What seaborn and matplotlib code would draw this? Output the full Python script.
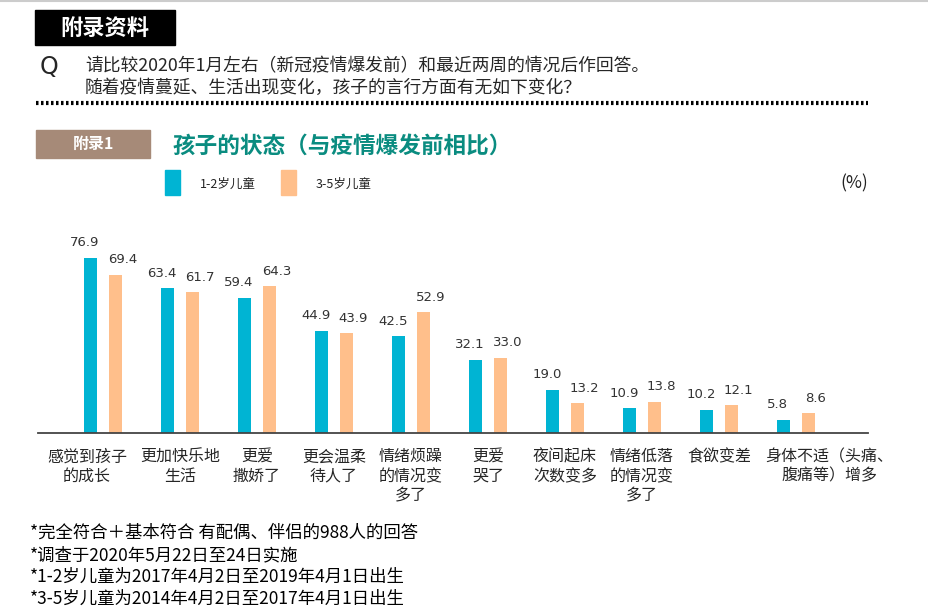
import seaborn as sns
import matplotlib.pyplot as plt
import pandas as pd
from matplotlib.patches import Rectangle
from matplotlib.lines import Line2D
from matplotlib.transforms import ScaledTranslation

sns.set_theme(style="white")
plt.rcParams['font.family'] = ['Noto Sans CJK SC', 'DejaVu Sans']

# data
categories = ['感觉到孩子\n的成长', '更加快乐地\n生活', '更爱\n撒娇了', '更会温柔\n待人了',
              '情绪烦躁\n的情况变\n多了', '更爱\n哭了', '夜间起床\n次数变多',
              '情绪低落\n的情况变\n多了', '食欲变差', '身体不适（头痛、\n腹痛等）增多']
kids_1_2 = [76.9, 63.4, 59.4, 44.9, 42.5, 32.1, 19.0, 10.9, 10.2, 5.8]
kids_3_5 = [69.4, 61.7, 64.3, 43.9, 52.9, 33.0, 13.2, 13.8, 12.1, 8.6]
series = ['1-2岁儿童', '3-5岁儿童']
colors = ['#00B4D3', '#FFBF8B']

df = pd.DataFrame({
    'cat': categories * 2,
    'val': kids_1_2 + kids_3_5,
    'grp': [series[0]] * len(categories) + [series[1]] * len(categories),
})

W, H = 929, 615
fig = plt.figure(figsize=(W / 100, H / 100), dpi=100)

def fx(x):
    return x / W

def fy(y):
    return 1 - y / H

# axes placed in pixel terms: baseline at y=433, x from 38 to 868
ax = fig.add_axes([fx(38), fy(433), fx(830), 228 / H])
sns.barplot(data=df, x='cat', y='val', hue='grp', palette=colors, saturation=1,
            width=0.65, gap=0.48, linewidth=0, ax=ax, legend=False)
ax.set_ylim(0, 100)
ax.set_xlim(-0.844, 9.935)
ax.set_xlabel('')
ax.set_ylabel('')
ax.set_yticks([])
for s in ['top', 'right', 'left']:
    ax.spines[s].set_visible(False)
ax.spines['bottom'].set_color('#444444')
ax.spines['bottom'].set_linewidth(1.3)
ax.tick_params(axis='x', length=0, pad=11, labelsize=11.5)
labels = ax.get_xticklabels()
for t in labels:
    t.set_va('top')
    t.set_linespacing(1.2)
# first and last labels sit a little off-centre in the original
labels[0].set_transform(labels[0].get_transform() + ScaledTranslation(-0.16, 0, fig.dpi_scale_trans))
labels[-1].set_transform(labels[-1].get_transform() + ScaledTranslation(0.33, 0, fig.dpi_scale_trans))

# value labels
for cont, dx in zip(ax.containers, [-4, 5]):
    for bar in cont:
        h = bar.get_height()
        ax.annotate(f'{h:.1f}', (bar.get_x() + bar.get_width() / 2, h),
                    xytext=(dx, 6), textcoords='offset points',
                    ha='center', va='bottom', fontsize=9.5, color='#333333',
                    family='DejaVu Sans')

# header
fig.add_artist(Line2D([0, 1], [fy(1), fy(1)], color='#cccccc', lw=1.5))
fig.add_artist(Rectangle((fx(35), fy(45)), fx(140), 35 / H, color='black'))
fig.text(fx(105), fy(28), '附录资料', color='white', fontsize=16, fontweight='bold',
         ha='center', va='center')
fig.text(fx(40), fy(67), 'Q', fontsize=17, family='DejaVu Sans', va='center')
fig.text(fx(85), fy(66), '请比较2020年1月左右（新冠疫情爆发前）和最近两周的情况后作回答。',
         fontsize=12.8, va='center')
fig.text(fx(85), fy(88), '随着疫情蔓延、生活出现变化，孩子的言行方面有无如下变化？',
         fontsize=12.8, va='center')
fig.add_artist(Line2D([fx(36), fx(868)], [fy(103), fy(103)], color='black',
                      lw=3, linestyle=(0, (0.6, 0.6))))

# section title
fig.add_artist(Rectangle((fx(36), fy(158)), fx(114), 28 / H, color='#A68A78'))
fig.text(fx(93), fy(144), '附录1', color='white', fontsize=11.5, fontweight='bold',
         ha='center', va='center')
fig.text(fx(172), fy(146), '孩子的状态（与疫情爆发前相比）', color='#0A8C80',
         fontsize=16.3, fontweight='bold', va='center')

# legend
for i, (lab, c) in enumerate(zip(series, colors)):
    x0 = 165 + i * 116
    fig.add_artist(Rectangle((fx(x0), fy(195)), fx(15), 25 / H, color=c))
    fig.text(fx(x0 + 35), fy(184), lab, fontsize=9, va='center', color='#222222')
fig.text(fx(868), fy(183), '(%)', fontsize=12.5, ha='right', va='center', color='#222222')

# footnotes
notes = ['*完全符合＋基本符合 有配偶、伴侣的988人的回答',
         '*调查于2020年5月22日至24日实施',
         '*1-2岁儿童为2017年4月2日至2019年4月1日出生',
         '*3-5岁儿童为2014年4月2日至2017年4月1日出生']
for i, n in enumerate(notes):
    fig.text(fx(30), fy(533 + 22 * i), n, fontsize=12.5, va='center', color='black')

fig.savefig('out.png', dpi=100)
